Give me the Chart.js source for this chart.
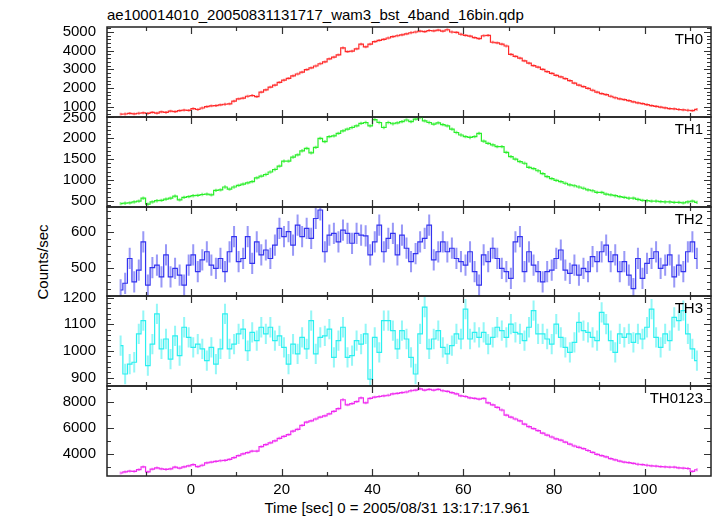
<!DOCTYPE html>
<html lang="en">
<head>
<meta charset="UTF-8">
<title>WAM light curve</title>
<script src="https://cdn.jsdelivr.net/npm/chart.js"></script>
<style>
  body { margin: 0; background: #fff; font-family: "Liberation Sans", Arial, sans-serif; }
  #wrap { position: relative; width: 717px; height: 516px; overflow: hidden; background: #fff; }
  #wrap canvas { position: absolute; left: 0; top: 0; }
  .txt { position: absolute; color: #000; font-size: 15px; line-height: 15px; white-space: nowrap; }
  #title { left: 107px; top: 7px; }
  #ylab { left: 42px; top: 262px; transform: translate(-50%, -50%) rotate(-90deg); }
  #xlab { left: 397px; top: 507px; transform: translate(-50%, -50%); }
</style>
</head>
<body>
<div id="wrap">
  <div class="txt" id="title">ae100014010_20050831131717_wam3_bst_4band_16bin.qdp</div>
  <div class="txt" id="ylab">Counts/sec</div>
  <div class="txt" id="xlab">Time [sec] 0 = 2005/08/31 13:17:17.961</div>
</div>
<script>
// bin centres (sec), 1 s bins
const timeSec = [
  -15.5,-14.5,-13.5,-12.5,-11.5,-10.5,-9.5,-8.5,-7.5,-6.5,-5.5,-4.5,-3.5,-2.5,-1.5,-0.5,
  0.5,1.5,2.5,3.5,4.5,5.5,6.5,7.5,8.5,9.5,10.5,11.5,12.5,13.5,14.5,15.5,
  16.5,17.5,18.5,19.5,20.5,21.5,22.5,23.5,24.5,25.5,26.5,27.5,28.5,29.5,30.5,31.5,
  32.5,33.5,34.5,35.5,36.5,37.5,38.5,39.5,40.5,41.5,42.5,43.5,44.5,45.5,46.5,47.5,
  48.5,49.5,50.5,51.5,52.5,53.5,54.5,55.5,56.5,57.5,58.5,59.5,60.5,61.5,62.5,63.5,
  64.5,65.5,66.5,67.5,68.5,69.5,70.5,71.5,72.5,73.5,74.5,75.5,76.5,77.5,78.5,79.5,
  80.5,81.5,82.5,83.5,84.5,85.5,86.5,87.5,88.5,89.5,90.5,91.5,92.5,93.5,94.5,95.5,
  96.5,97.5,98.5,99.5,100.5,101.5,102.5,103.5,104.5,105.5,106.5,107.5,108.5,109.5,110.5,111.5
];

const th0 = [
  600,610,640,620,650,670,640,700,660,720,700,760,740,790,820,800,
  900,850,930,1000,1040,1060,1100,1130,1150,1300,1420,1460,1560,1600,1540,1780,
  1900,2050,2150,2300,2420,2520,2650,2750,2850,2980,3080,3180,3300,3400,3560,3650,
  3780,4150,3950,3980,4100,4350,4200,4350,4480,4550,4600,4680,4750,4800,4850,4900,
  4960,5000,5050,5020,5080,5060,5100,5050,5120,5000,4980,4880,4820,4780,4700,4650,
  4800,4820,4450,4420,4350,4250,3800,3700,3600,3450,3330,3200,3120,3000,2880,2780,
  2680,2600,2500,2400,2260,2150,2080,1980,1880,1780,1700,1650,1560,1480,1420,1380,
  1330,1260,1200,1160,1110,1060,1020,980,940,900,880,850,830,810,790,860
];
const th1 = [
  430,440,450,470,490,560,420,470,500,510,540,560,610,520,580,600,
  620,630,650,660,640,750,760,830,780,830,870,900,930,960,1050,1090,
  1130,1190,1250,1330,1450,1450,1550,1600,1700,1760,1650,1780,2000,1920,2040,2060,
  2120,2180,2220,2260,2300,2360,2380,2300,2450,2380,2260,2380,2350,2370,2400,2440,
  2400,2460,2500,2420,2380,2340,2370,2330,2300,2220,2140,2080,2040,2020,2040,2120,
  1930,1880,1840,1800,1800,1660,1560,1500,1440,1400,1300,1270,1220,1150,1080,1030,
  990,960,920,880,860,830,800,760,740,700,700,660,640,620,600,580,
  560,560,530,510,500,490,490,480,470,470,460,460,450,470,490,460
];
const th2 = [
  437,456,526,460,493,573,451,500,507,474,536,474,498,479,451,507,
  536,489,522,545,507,498,526,489,545,588,517,526,588,512,573,536,
  550,526,564,611,588,602,564,620,588,611,583,639,663,545,592,597,
  573,606,597,569,597,592,590,536,573,620,545,583,597,536,592,555,
  517,540,573,583,620,522,545,573,545,555,526,517,507,545,489,451,
  536,517,555,526,498,489,470,573,588,489,545,507,489,460,489,493,
  526,550,493,484,507,479,498,489,531,517,545,564,517,536,489,517,
  479,441,526,470,512,526,545,498,507,536,474,507,489,545,573,526
];
const th3 = [
  1020,914,951,958,1064,1114,945,1026,1139,1008,1045,970,1057,983,1089,1051,
  1014,1026,1008,964,1014,951,1008,1139,1008,1026,1064,1082,1001,1070,1039,1089,
  1064,1089,1039,1057,1014,951,1026,989,1051,1008,1114,989,1051,1057,1082,976,
  1039,1089,976,983,1039,1026,1064,895,1051,995,1114,1114,1076,1008,1076,1045,
  976,914,1064,1164,1008,1045,1076,1014,989,1020,1064,1045,1157,1045,1070,1051,
  1070,1026,1051,1089,1076,1051,1101,1070,1064,1039,1089,1151,1064,1064,1045,1026,
  1101,1051,1014,995,1032,1107,1076,1070,1051,1039,1145,1101,1039,995,1064,1051,
  1064,1032,1064,1045,1089,1157,1051,1014,1064,1039,1126,1114,1151,1064,1008,964
];
const th0123 = [
  2500,2580,2650,2620,2760,2980,2580,2800,2900,2820,2780,2820,2960,2880,2980,3050,
  3150,3000,3100,3280,3350,3400,3450,3480,3560,3700,3850,3980,4080,4200,4200,4550,
  4700,4850,5000,5200,5350,5480,5750,5900,6200,6450,6550,6700,6850,6950,7100,7300,
  7500,8200,7800,7900,8050,8350,7950,8300,8400,8450,8500,8550,8650,8700,8750,8800,
  8900,8950,9050,8950,9000,8950,9000,8900,8850,8750,8650,8500,8450,8350,8300,8250,
  8300,7950,7800,7600,7400,7000,6850,6700,6550,6300,6100,5950,5800,5600,5450,5300,
  5150,5050,4900,4750,4600,4500,4400,4250,4100,3950,3850,3750,3620,3520,3420,3350,
  3300,3250,3180,3150,3100,3050,3030,3000,2980,2950,2950,2900,2880,2850,2620,2750
];

// per panel: name, 1-sigma error (counts/sec), y range, tick labels, minor tick step
const bandNames = ['TH0', 'TH1', 'TH2', 'TH3', 'TH0123'];
const bandErrors = [75, 40, 30, 38, 110];
const yMin = [448, 349, 420, 869, 2265];
const yMax = [5268, 2512, 671.5, 1206, 9268];
const yTicks = [
  [1000, 2000, 3000, 4000, 5000],
  [500, 1000, 1500, 2000, 2500],
  [500, 600],
  [900, 1000, 1100, 1200],
  [4000, 6000, 8000]
];
const yMinor = [200, 100, 20, 20, 1000];
const xTicks = [0, 20, 40, 60, 80, 100];
const xMinor = 10;

const series = [th0, th1, th2, th3, th0123];
const colors = ['#ff2a2a', '#2aee2a', '#3333f0', '#2af0f0', '#f02af0'];
const panelTop = [27, 117, 207, 296, 386];
const panelBottom = [117, 207, 296, 386, 476];
const FONT = '"Liberation Sans", Arial, sans-serif';

function decor(i) {
  const last = i === series.length - 1;
  return {
    id: 'decor' + i,
    beforeDatasetsDraw(chart) {
      // vertical error bars
      const { ctx, chartArea: a, scales: { x, y } } = chart;
      const vals = series[i], err = bandErrors[i];
      ctx.save();
      ctx.beginPath();
      ctx.rect(a.left, a.top, a.width, a.height);
      ctx.clip();
      ctx.strokeStyle = colors[i];
      ctx.globalAlpha = 0.5;
      ctx.lineWidth = 2;
      ctx.beginPath();
      timeSec.forEach((t, k) => {
        const px = x.getPixelForValue(t);
        ctx.moveTo(px, y.getPixelForValue(vals[k] - err));
        ctx.lineTo(px, y.getPixelForValue(vals[k] + err));
      });
      ctx.stroke();
      ctx.restore();
    },
    afterDatasetsDraw(chart) {
      const { ctx, chartArea: a, scales: { x, y } } = chart;
      ctx.save();
      // inward ticks on all four sides
      ctx.strokeStyle = '#333';
      ctx.lineWidth = 1.2;
      ctx.beginPath();
      for (let v = -10; v <= 110; v += xMinor) {
        const px = Math.round(x.getPixelForValue(v)) + 0.5;
        const len = xTicks.includes(v) ? 7 : 4;
        ctx.moveTo(px, a.top); ctx.lineTo(px, a.top + len);
        ctx.moveTo(px, a.bottom); ctx.lineTo(px, a.bottom - len);
      }
      const m = yMinor[i];
      const major = yTicks[i][1] - yTicks[i][0];
      for (let v = Math.ceil(yMin[i] / m) * m; v <= yMax[i]; v += m) {
        const py = Math.round(y.getPixelForValue(v)) + 0.5;
        const len = v % major === 0 ? 7 : 4;
        ctx.moveTo(a.left, py); ctx.lineTo(a.left + len, py);
        ctx.moveTo(a.right, py); ctx.lineTo(a.right - len, py);
      }
      ctx.stroke();
      // frame
      ctx.lineWidth = 1.5;
      ctx.strokeStyle = '#222';
      ctx.strokeRect(a.left, a.top, a.width, a.height);
      // tick labels
      ctx.fillStyle = '#000';
      ctx.font = '15px ' + FONT;
      ctx.textAlign = 'right';
      ctx.textBaseline = 'middle';
      yTicks[i].forEach(v => ctx.fillText(String(v), a.left - 11, y.getPixelForValue(v)));
      if (last) {
        ctx.textAlign = 'center';
        xTicks.forEach(v => ctx.fillText(String(v), x.getPixelForValue(v), a.bottom + 14));
      }
      // band name
      ctx.textAlign = 'right';
      ctx.textBaseline = 'alphabetic';
      ctx.fillText(bandNames[i], a.right - 8, a.top + 17);
      ctx.restore();
    }
  };
}

const wrap = document.getElementById('wrap');

series.forEach((vals, i) => {
  const canvas = document.createElement('canvas');
  canvas.width = 717;
  canvas.height = 516;
  canvas.style.width = '717px';
  canvas.style.height = '516px';
  wrap.appendChild(canvas);

  new Chart(canvas, {
    type: 'line',
    data: {
      datasets: [{
        data: timeSec.map((t, k) => ({ x: t, y: vals[k] })),
        borderColor: colors[i],
        borderWidth: 1.2,
        pointRadius: 0,
        stepped: 'middle',
        fill: false
      }]
    },
    options: {
      responsive: false,
      animation: false,
      events: [],
      layout: { padding: { left: 107, right: 6, top: panelTop[i], bottom: 516 - panelBottom[i] } },
      plugins: { legend: { display: false }, tooltip: { enabled: false } },
      scales: {
        x: { type: 'linear', min: -18.5, max: 114.6, display: false },
        y: { min: yMin[i], max: yMax[i], display: false }
      }
    },
    plugins: [decor(i)]
  });
});
</script>
</body>
</html>
